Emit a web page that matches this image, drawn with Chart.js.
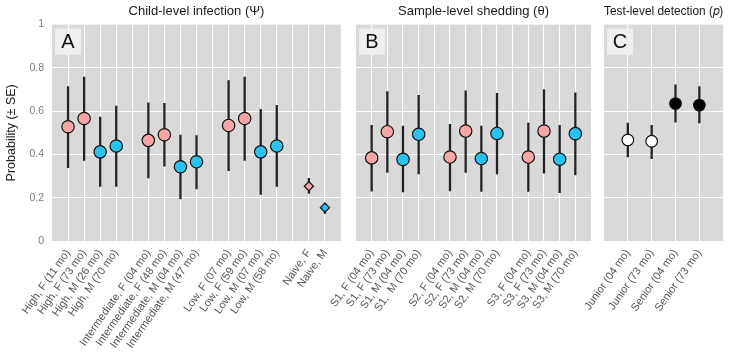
<!DOCTYPE html>
<html>
<head>
<meta charset="utf-8">
<script src="https://cdn.jsdelivr.net/npm/chart.js@4"></script>
<style>
  body { margin: 0; background: #fff; }
  #wrap { position: relative; width: 740px; height: 357px; }
  canvas { position: absolute; left: 0; top: 0; }
</style>
</head>
<body>
<div id="wrap">
  <canvas id="panelA" width="740" height="357"></canvas>
  <canvas id="panelB" width="740" height="357"></canvas>
  <canvas id="panelC" width="740" height="357"></canvas>
</div>
<script>
// Panel A: child-level infection (psi). '' marks an empty slot between groups
const psiLabels = ['High, F (11 mo)', 'High, F (73 mo)', 'High, M (26 mo)', 'High, M (70 mo)', '',
  'Intermediate, F (04 mo)', 'Intermediate, F (48 mo)', 'Intermediate, M (04 mo)', 'Intermediate, M (47 mo)', '',
  'Low, F (07 mo)', 'Low, F (59 mo)', 'Low, M (07 mo)', 'Low, M (58 mo)', '',
  'Naive, F', 'Naive, M'];
const psiEst = [0.528, 0.566, 0.412, 0.439, null, 0.465, 0.491, 0.343, 0.366, null, 0.534, 0.566, 0.412, 0.439, null, 0.253, 0.154];
const psiLow = [0.339, 0.372, 0.252, 0.252, null, 0.291, 0.346, 0.195, 0.241, null, 0.325, 0.372, 0.215, 0.252, null, 0.220, 0.127];
const psiHigh = [0.714, 0.758, 0.573, 0.624, null, 0.639, 0.636, 0.490, 0.487, null, 0.741, 0.758, 0.609, 0.627, null, 0.290, 0.175];
const psiSex = ['F', 'F', 'M', 'M', null, 'F', 'F', 'M', 'M', null, 'F', 'F', 'M', 'M', null, 'F', 'M'];

// Panel B: sample-level shedding (theta)
const thetaLabels = ['S1, F (04 mo)', 'S1, F (73 mo)', 'S1, M (04 mo)', 'S1,  M (70 mo)', '',
  'S2, F (04 mo)', 'S2, F (73 mo)', 'S2, M (04 mo)', 'S2, M (70 mo)', '',
  'S3, F (04 mo)', 'S3, F (73 mo)', 'S3, M (04 mo)', 'S3, M (70 mo)'];
const thetaEst = [0.384, 0.505, 0.377, 0.493, null, 0.388, 0.508, 0.381, 0.497, null, 0.388, 0.508, 0.378, 0.496];
const thetaLow = [0.230, 0.317, 0.227, 0.310, null, 0.232, 0.317, 0.229, 0.310, null, 0.229, 0.314, 0.223, 0.305];
const thetaHigh = [0.535, 0.691, 0.531, 0.673, null, 0.539, 0.694, 0.531, 0.682, null, 0.545, 0.700, 0.535, 0.685];
const thetaSex = ['F', 'F', 'M', 'M', null, 'F', 'F', 'M', 'M', null, 'F', 'F', 'M', 'M'];

// Panel C: test-level detection (p)
const pLabels = ['Junior (04 mo)', 'Junior (73 mo)', 'Senior (04 mo)', 'Senior (73 mo)'];
const pEst = [0.467, 0.461, 0.635, 0.628];
const pLow = [0.389, 0.381, 0.549, 0.546];
const pHigh = [0.545, 0.535, 0.722, 0.714];
const pLevel = ['Junior', 'Junior', 'Senior', 'Senior'];

const FONT = 'Liberation Sans, Arial, sans-serif';
const fillFor = { F: '#f6a6a6', M: '#29c1ee', Junior: '#ffffff', Senior: '#000000' };

const panelBg = {
  id: 'panelBg',
  beforeDraw(chart) {
    const a = chart.chartArea, ctx = chart.ctx;
    ctx.save();
    ctx.fillStyle = '#d9d9d9';
    ctx.fillRect(a.left, a.top, a.right - a.left, a.bottom - a.top);
    ctx.restore();
  },
  beforeDatasetsDraw(chart, args, opts) {
    const a = chart.chartArea, ctx = chart.ctx;
    ctx.save();
    ctx.fillStyle = '#efefef';
    ctx.fillRect(a.left + 3, a.top + 4, 26, 26);
    ctx.fillStyle = '#111';
    ctx.font = '20px ' + FONT;
    ctx.textAlign = 'center';
    ctx.textBaseline = 'middle';
    ctx.fillText(opts.letter, a.left + 16, a.top + 18);
    ctx.restore();
  }
};

function makePanel(id, cfg) {
  const pts = [], bars = [], fills = [], radii = [], styles = [];
  cfg.est.forEach((v, i) => {
    if (v === null) return;
    pts.push({ x: i, y: v });
    bars.push({ x: i, y: [cfg.low[i], cfg.high[i]] });
    fills.push(fillFor[cfg.group[i]]);
    const diamond = cfg.labels[i].startsWith('Naive');
    radii.push(diamond ? 4.6 : cfg.radius);
    styles.push(diamond ? 'rectRot' : 'circle');
  });
  const n = cfg.labels.length;
  new Chart(document.getElementById(id), {
    type: 'scatter',
    data: {
      datasets: [
        {
          type: 'scatter', data: pts, order: 0,
          pointBackgroundColor: fills, pointBorderColor: '#111', pointBorderWidth: 1.2,
          pointRadius: radii, pointStyle: styles
        },
        {
          type: 'bar', data: bars, order: 1,
          backgroundColor: '#222', borderWidth: 0, barThickness: 1.6
        }
      ]
    },
    options: {
      responsive: false,
      animation: false,
      layout: { padding: { left: cfg.padLeft, right: cfg.padRight, top: 0, bottom: 0 } },
      plugins: {
        legend: { display: false },
        tooltip: { enabled: false },
        title: {
          display: true, text: cfg.title, fullSize: false, color: '#1a1a1a',
          font: { family: FONT, size: 13, weight: 'normal' }, padding: { top: 4, bottom: 5 }
        },
        panelBg: { letter: cfg.letter }
      },
      scales: {
        x: {
          type: 'linear', min: -1, max: n, offset: false,
          border: { display: false },
          grid: {
            offset: false, drawTicks: false, lineWidth: 1.1,
            color: (c) => (c.tick && c.tick.value >= 0 && c.tick.value < n) ? '#ffffff' : 'rgba(0,0,0,0)'
          },
          ticks: {
            stepSize: 1, autoSkip: false, minRotation: 55, maxRotation: 55, padding: 6,
            color: '#555', font: { family: FONT, size: 11 },
            callback: (v) => cfg.labels[v] || ''
          },
          afterFit: (s) => { s.height = 116; }
        },
        y: {
          min: 0, max: 1,
          border: { display: false },
          grid: {
            drawTicks: false, lineWidth: 1.1,
            color: (c) => (c.tick && c.tick.value > 0 && c.tick.value < 1) ? '#ffffff' : 'rgba(0,0,0,0)'
          },
          ticks: {
            display: cfg.showY, stepSize: 0.2, padding: 8,
            color: '#7f7f7f', font: { family: FONT, size: 10.5 },
            callback: (v) => String(Math.round(v * 10) / 10)
          },
          title: {
            display: cfg.showY, text: 'Probability (± SE)', color: '#222',
            font: { family: FONT, size: 12.5 }, padding: { top: 4, bottom: 0 }
          },
          afterFit: (s) => { s.width = cfg.showY ? 52 : 0; }
        }
      }
    },
    plugins: [panelBg]
  });
}

makePanel('panelA', {
  labels: psiLabels, est: psiEst, low: psiLow, high: psiHigh, group: psiSex,
  radius: 6.2, title: 'Child-level infection (Ψ)', letter: 'A',
  padLeft: 0, padRight: 740 - 341, showY: true
});
makePanel('panelB', {
  labels: thetaLabels, est: thetaEst, low: thetaLow, high: thetaHigh, group: thetaSex,
  radius: 6.2, title: 'Sample-level shedding (θ)', letter: 'B',
  padLeft: 356, padRight: 740 - 591, showY: false
});
makePanel('panelC', {
  labels: pLabels, est: pEst, low: pLow, high: pHigh, group: pLevel,
  radius: 5.8, title: 'Test-level detection (𝑝)', letter: 'C',
  padLeft: 604, padRight: 10, showY: false
});
</script>
</body>
</html>
